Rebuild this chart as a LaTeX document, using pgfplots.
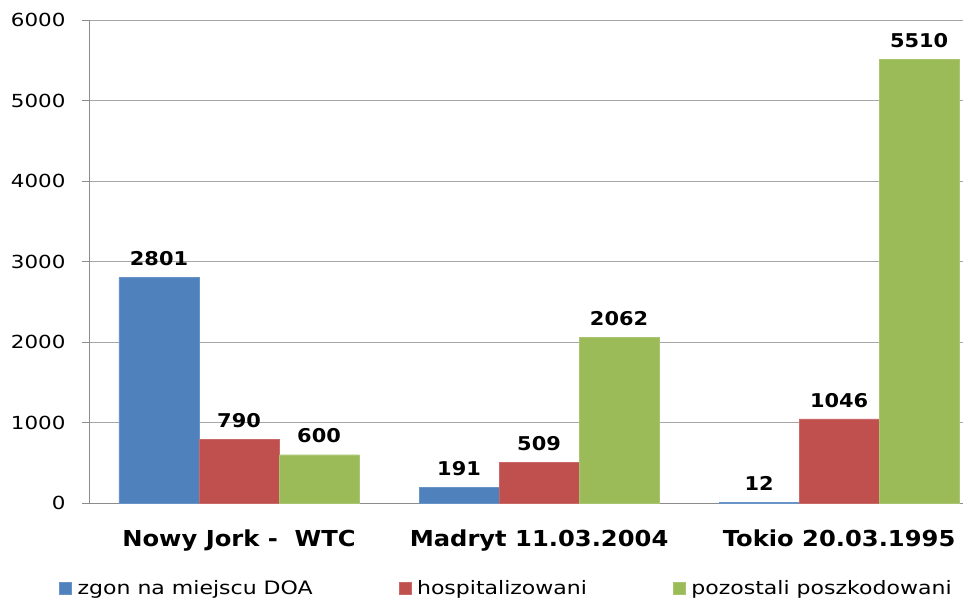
\documentclass[border=0pt]{standalone}
\usepackage{pgfplots}
\pgfplotsset{compat=1.18}
\usepackage{fontspec}
\setmainfont{DejaVu Sans}[FakeStretch=1.19]
\newfontfamily\labfont{DejaVu Sans Bold}[FakeStretch=1.1]
\definecolor{doa}{HTML}{4F81BD}
\definecolor{hosp}{HTML}{C0504D}
\definecolor{poz}{HTML}{9BBB59}
\definecolor{gridc}{HTML}{A6A6A6}
\definecolor{axisc}{HTML}{8C8C8C}
\begin{document}
\begin{tikzpicture}
\begin{axis}[
  name=main,
  at={(0,0)}, anchor=south west,
  scale only axis,
  width=874bp, height=483bp,
  xmin=-0.5, xmax=2.413,
  ymin=0, ymax=6000,
  ybar,
  bar width=0.2667,
  axis lines*=left,
  axis line style={draw=axisc, line width=0.8bp},
  ymajorgrids,
  major grid style={draw=gridc, line width=0.8bp},
  ytick={0,1000,...,6000},
  xtick={0,1,2},
  xticklabels={Nowy Jork -\ \ WTC, Madryt 11.03.2004, Tokio 20.03.1995},
  major x tick style={draw=none},
  extra x ticks={-0.5,0.5,1.5},
  extra x tick labels={},
  extra x tick style={major tick style={draw=axisc, line width=0.8bp}, grid=none},
  tick align=outside,
  major tick length=7bp,
  y tick style={draw=axisc, line width=0.8bp},
  /pgf/number format/assume math mode=true,
  /pgf/number format/1000 sep={},
  yticklabel style={font=\fontsize{18bp}{20bp}\selectfont, xshift=-13bp},
  xticklabel style={font=\fontsize{22bp}{24bp}\labfont, yshift=-16bp},
  nodes near coords,
  nodes near coords style={font=\fontsize{19bp}{21bp}\labfont, yshift=8bp},
  legend style={
    at={(axis description cs:0,0)}, anchor=west,
    xshift=-33bp, yshift=-85bp,
    draw=none, fill=none,
    font=\fontsize{18.5bp}{20bp}\selectfont,
    /tikz/every odd column/.append style={column sep=4bp},
    /tikz/every even column/.append style={column sep=84bp},
  },
  legend columns=-1,
  legend image code/.code={
    \fill[#1] (0bp,-6bp) rectangle (12bp,6bp);
  },
  clip=true,
]
\addplot[fill=doa, draw=doa!85!white, bar shift=-0.2667] coordinates {(0,2801) (1,191) (2,12)};
\addplot[fill=hosp, draw=hosp!85!white, bar shift=0] coordinates {(0,790) (1,509) (2,1046)};
\addplot[fill=poz, draw=poz!85!white, bar shift=0.2667] coordinates {(0,600) (1,2062) (2,5510)};
\legend{zgon na miejscu DOA, hospitalizowani, pozostali poszkodowani}
\end{axis}
\pgfresetboundingbox
\path (main.south west) ++(-89bp,-100bp) coordinate (bl);
\path (main.south west) ++(874bp,503bp) coordinate (tr);
\path[use as bounding box] (bl) rectangle (tr);
\end{tikzpicture}
\end{document}
